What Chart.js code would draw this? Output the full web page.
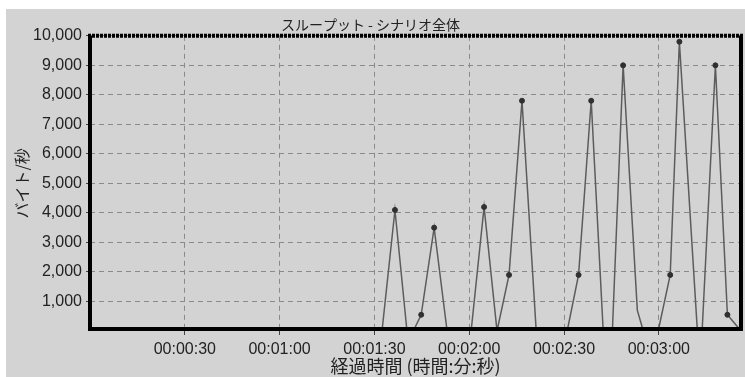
<!DOCTYPE html>
<html lang="ja">
<head>
<meta charset="utf-8">
<title>スループット - シナリオ全体</title>
<script src="https://cdn.jsdelivr.net/npm/chart.js@4.4.1/dist/chart.umd.min.js"></script>
<style>
  html, body { margin: 0; padding: 0; background: #ffffff; }
  canvas { display: block; }
</style>
</head>
<body>
<canvas id="chart" width="745" height="377"></canvas>
<script>
// Elapsed time of each sample (seconds since scenario start)
const sampleSeconds = [
  92.4, 96.5, 100.3, 102.3, 104.8, 108.9, 113.0, 120.6, 124.7, 128.8,
  132.6, 136.7, 141.2, 151.0, 154.6, 158.6, 162.4, 165.3, 168.7, 173.2,
  175.1, 179.8, 183.6, 186.5, 192.2, 193.7, 197.9, 201.7, 206.0
];
// Throughput for each sample (bytes per second)
const bytesPerSecond = [
  0, 4100, 0, 0, 550, 3500, 0, 0, 4200, 0,
  1900, 7800, 0, 0, 1900, 7800, 0, 0, 9000, 700,
  0, 0, 1900, 9800, 0, 0, 9000, 550, 0
];
// Samples that get a dot marker
const markedSeconds = [
  96.5, 104.8, 108.9, 120.6, 124.7, 132.6, 136.7, 154.6,
  158.6, 168.7, 179.8, 183.6, 186.5, 197.9, 201.7
];
// Axis ticks
const xTickSeconds = [30, 60, 90, 120, 150, 180];
const xTickLabels = ['00:00:30', '00:01:00', '00:01:30', '00:02:00', '00:02:30', '00:03:00'];
const yTickValues = [1000, 2000, 3000, 4000, 5000, 6000, 7000, 8000, 9000, 10000];
const yTickLabels = ['1,000', '2,000', '3,000', '4,000', '5,000', '6,000', '7,000', '8,000', '9,000', '10,000'];

const points = sampleSeconds.map((s, i) => ({ x: s, y: bytesPerSecond[i] }));

const GRAY = '#d3d3d3';
const TEXT = '#222222';
const SANS = '"Liberation Sans", Arial, sans-serif';
const CJK = '"Noto Sans CJK JP", sans-serif';

// Window-style backdrop and the heavy frame round the plot area
const frame = {
  id: 'frame',
  beforeDraw(chart) {
    const { ctx, width, height } = chart;
    ctx.save();
    ctx.fillStyle = '#ffffff';
    ctx.fillRect(0, 0, width, height);
    ctx.fillStyle = GRAY;
    ctx.fillRect(6, 9, width - 6, height - 9);
    ctx.restore();
  },
  afterDatasetsDraw(chart) {
    const { ctx, chartArea: a } = chart;
    ctx.save();
    ctx.strokeStyle = '#000000';
    ctx.lineWidth = 4;
    ctx.beginPath();
    ctx.moveTo(a.left, a.top);
    ctx.lineTo(a.left, a.bottom - 2);
    ctx.lineTo(a.right, a.bottom - 2);
    ctx.lineTo(a.right, a.top);
    ctx.stroke();
    ctx.setLineDash([3, 1]);
    ctx.beginPath();
    ctx.moveTo(a.left - 2, a.top);
    ctx.lineTo(a.right + 2, a.top);
    ctx.stroke();
    ctx.restore();
  }
};

new Chart(document.getElementById('chart'), {
  type: 'line',
  data: {
    datasets: [{
      data: points,
      borderColor: '#5c5c5c',
      borderWidth: 1.5,
      tension: 0,
      fill: false,
      pointRadius: c => (c.raw && markedSeconds.includes(c.raw.x)) ? 2.5 : 0,
      pointBackgroundColor: '#303030',
      pointBorderColor: '#303030',
      pointBorderWidth: 1
    }]
  },
  options: {
    responsive: false,
    animation: false,
    events: [],
    layout: { padding: { left: 0, right: 4, top: 0, bottom: 0 } },
    plugins: {
      legend: { display: false },
      tooltip: { enabled: false },
      title: {
        display: true,
        text: 'スループット - シナリオ全体',
        color: TEXT,
        font: { family: CJK, size: 14, weight: 'normal', lineHeight: 1.2 },
        padding: { top: 16, bottom: 3 }
      }
    },
    scales: {
      x: {
        type: 'linear',
        min: 0,
        max: 206,
        afterBuildTicks: s => { s.ticks = xTickSeconds.map(v => ({ value: v })); },
        afterFit: s => { s.height = 46; },
        ticks: {
          color: TEXT,
          font: { family: SANS, size: 16 },
          padding: 5,
          maxRotation: 0,
          autoSkip: false,
          callback: (v, i) => xTickLabels[i]
        },
        grid: { color: '#8a8a8a', lineWidth: 1, drawTicks: true, tickLength: 4, tickColor: '#444444', tickWidth: 1 },
        border: { display: false, dash: [5, 4] },
        title: {
          display: true,
          text: '経過時間 (時間:分:秒)',
          color: TEXT,
          font: { family: CJK, size: 18, lineHeight: 1.2 },
          padding: { top: 0, bottom: 0 }
        }
      },
      y: {
        min: 0,
        max: 10000,
        afterBuildTicks: s => { s.ticks = yTickValues.map(v => ({ value: v })); },
        afterFit: s => { s.width = 90; },
        ticks: {
          color: TEXT,
          font: { family: SANS, size: 16 },
          padding: 4,
          autoSkip: false,
          callback: (v, i) => yTickLabels[i]
        },
        grid: { color: '#8a8a8a', lineWidth: 1, drawTicks: true, tickLength: 4, tickColor: '#444444', tickWidth: 1 },
        border: { display: false, dash: [5, 4] },
        title: {
          display: true,
          text: 'バイト/秒',
          color: TEXT,
          font: { family: CJK, size: 16, lineHeight: 1.2 },
          padding: { top: 12, bottom: 0 }
        }
      }
    }
  },
  plugins: [frame]
});
</script>
</body>
</html>
